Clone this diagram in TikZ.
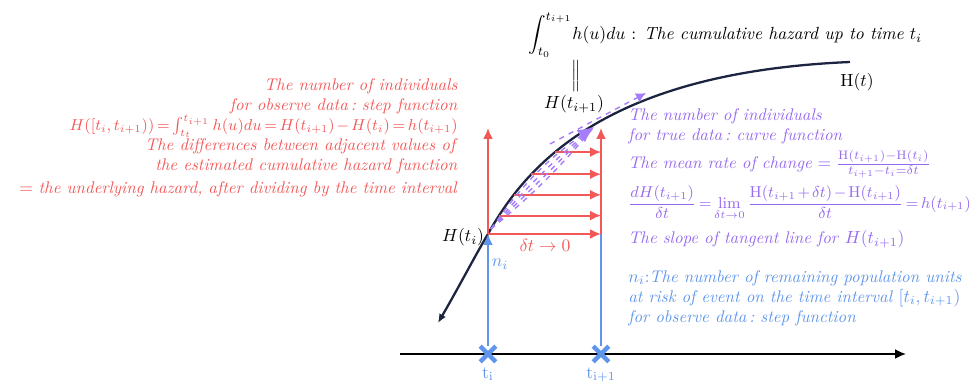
\documentclass[tikz,border=0pt]{standalone}
\usepackage{amsmath}
\usepackage{amssymb}
\usepackage{xcolor}
\usetikzlibrary{arrows.meta,positioning,shapes.misc}

\definecolor{obsred}{RGB}{243,88,88}
\definecolor{truepurple}{RGB}{150,105,238}
\definecolor{dashpurple}{RGB}{165,125,250}
\definecolor{riskblue}{RGB}{95,150,235}
\definecolor{curvenavy}{RGB}{28,36,64}

\begin{document}
\begin{tikzpicture}[
  x=0.02cm, y=-0.02cm,
  font=\fontsize{9.6}{11.4}\selectfont,
  lbl/.style={inner sep=1pt},
  redtxt/.style={text=obsred, align=right, inner sep=0pt},
  purtxt/.style={text=truepurple, align=left, inner sep=0pt},
  bluetxt/.style={text=riskblue, align=left, inner sep=0pt},
  arr/.style={-{Latex[length=2.2mm, width=2mm]}},
  redarr/.style={arr, obsred, line width=1.1pt},
  bluearr/.style={arr, riskblue, line width=1pt},
  fb/.style={dashed, dashpurple, line width=0.8pt},
  xmark/.style={cross out, draw=riskblue, line width=2.6pt, minimum size=0.22cm, inner sep=0pt}
]
\useasboundingbox (0,0) rectangle (971,381);

% time axis
\coordinate (ax0) at (400,354);
\coordinate (ax1) at (906,354);
\draw[arr, line width=1pt] (ax0) -- (ax1);
\node[xmark] (ti) at (488,354) {};
\node[xmark] (tn) at (601,354) {};
\node[text=riskblue, lbl] (tilab) at (488,374) {$\mathrm{t}_{\mathrm{i}}$};
\node[text=riskblue, lbl] (tnlab) at (601,375) {$\mathrm{t}_{\mathrm{i+1}}$};

% cumulative hazard curve
\coordinate (Hti) at (488,234);
\coordinate (Hend) at (850,62);
\coordinate (Hstart) at (438,323);
\draw[curvenavy, line width=1.3pt, {Latex[length=1.8mm, width=1.5mm]}-]
  (Hstart) .. controls (460,285) and (476,254) .. (Hti)
  .. controls (530,158) and (615,72) .. (Hend)
  coordinate[pos=0.08] (c1) coordinate[pos=0.17] (c2)
  coordinate[pos=0.26] (c3) coordinate[pos=0.36] (c4);

% observed steps
\coordinate (ltop) at (488,128);
\coordinate (rbot) at (601,234);
\coordinate (rtop) at (601,128);
\draw[bluearr] (ti) -- (Hti);
\draw[riskblue, line width=1pt] (tn) -- (rbot);
\draw[redarr] (Hti) -- (ltop);
\draw[redarr] (rbot) -- (rtop);
\draw[redarr] (Hti) -- (rbot);
\foreach \c in {c1,c2,c3,c4}
  \draw[redarr] (\c) -- (\c -| rbot);

% true data slope
\coordinate (sl0) at (491,229);
\coordinate (sl1) at (594,127);
\coordinate (tg0) at (550,144);
\coordinate (tg1) at (646,93);
\draw[fb] (sl0) -- (sl1);
\draw[fb] (sl0) to[bend left=5] (sl1);
\draw[fb] (sl0) to[bend right=5] (sl1);
\draw[fb, -{Latex[length=3.2mm, width=3mm]}] (sl0) to[bend left=10] (sl1);
\draw[fb, -{Latex[length=2mm, width=2mm]}] (tg0) -- (tg1);

% labels on the curve
\node[lbl] (Htilab) at (463,237) {$H(t_i)$};
\node[lbl] (Htnlab) at (574,104) {$H(t_{i+1})$};
\node[lbl, font=\normalsize] (Htlab) at (857,82) {$\mathrm{H}(t)$};
\node[lbl] (eqbar) at (576,76) {$\Big\|$};
\node[lbl, anchor=west, font=\fontsize{10}{12}\selectfont] (cumh) at (526,35)
  {$\displaystyle\int_{t_0}^{t_{i+1}}\!h(u)du$ : \textit{The cumulative hazard up to time} $t_i$};
\node[lbl, text=riskblue] (nilab) at (500,264) {$n_i$};
\node[lbl, text=obsred] (dtlab) at (545,245) {$\delta t\to 0$};

% observed data (red)
\node[redtxt, anchor=north east] (obsnote) at (458,78)
  {\textit{The number of individuals}\\
   \textit{for observe data\,:\ step function}\\
   \smash{\fontsize{9.1}{11.4}\selectfont$\thickmuskip=3mu \medmuskip=2mu \relax
     H([t_i,t_{i+1}))=\int_{t_t}^{t_{i+1}}h(u)du=H(t_{i+1})-H(t_i)=h(t_{i+1})$}\\
   \textit{The differences between adjacent values of}\\
   \textit{the estimated cumulative hazard function}\\[2pt]
   $=$ \textit{the underlying hazard, after dividing by the time interval}};

% true data (purple)
\node[purtxt, anchor=north west] (truenote) at (628,108)
  {\textit{The number of individuals}\\
   \textit{for true data\,:\ curve function}\\[3pt]
   \textit{The mean rate of change} $=\frac{\mathrm{H}(t_{i+1})-\mathrm{H}(t_i)}{t_{i+1}-t_i=\delta t}$};
\node[purtxt, anchor=west, font=\fontsize{9}{11}\selectfont] (deriv) at (628,203)
  {$\thickmuskip=3mu \medmuskip=2mu \relax
   \dfrac{dH(t_{i+1})}{\delta t}=\lim\limits_{\delta t\to 0}\dfrac{\mathrm{H}(t_{i+1}+\delta t)-\mathrm{H}(t_{i+1})}{\delta t}=h(t_{i+1})$};
\node[purtxt, anchor=west] (slope) at (628,239)
  {\textit{The slope of tangent line for} $H(t_{i+1})$};

% risk set (blue)
\node[bluetxt, anchor=north west] (risknote) at (628,270)
  {$n_i$:\textit{The number of remaining population units}\\
   \textit{at risk of event on the time interval} $[t_i,t_{i+1})$\\
   \textit{for observe data\,:\ step function}};
\end{tikzpicture}
\end{document}
